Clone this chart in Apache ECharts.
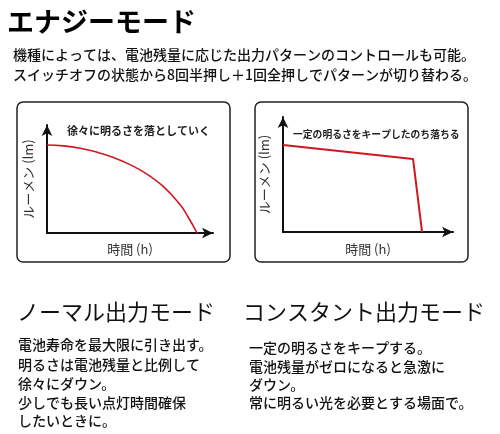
<!DOCTYPE html>
<html>
<head>
<meta charset="utf-8">
<script src="https://cdn.jsdelivr.net/npm/echarts@6/dist/echarts.min.js"></script>
<style>
  html, body { margin: 0; padding: 0; background: #fff; }
  #chart { width: 500px; height: 434px; }
</style>
</head>
<body>
<div id="chart"></div>
<script>
// normal mode: brightness falls gradually (x: time, y: lumen, arbitrary units)
const normalTime = [0, 10, 20, 30, 40, 50, 60, 70, 80, 85, 90.4]
const normalLumen = [81.5, 80.7, 78.5, 74.9, 69.9, 63.3, 54.7, 43.1, 26.6, 14.8, 0]
// constant mode: keeps brightness then drops
const constTime = [0, 76.5, 81.8]
const constLumen = [75.7, 63.5, 0]

const introLines = [
  '機種によっては、電池残量に応じた出力パターンのコントロールも可能。',
  'スイッチオフの状態から8回半押し＋1回全押しでパターンが切り替わる。'
]
const normalText = ['電池寿命を最大限に引き出す。', '明るさは電池残量と比例して', '徐々にダウン。', '少しでも長い点灯時間確保', 'したいときに。']
const constText = ['一定の明るさをキープする。', '電池残量がゼロになると急激に', 'ダウン。', '常に明るい光を必要とする場面で。']

const FONT = '"Noto Sans CJK JP", "Noto Sans", sans-serif'
const RED = '#d0161e'

const chart = echarts.init(document.getElementById('chart'))

const txt = (x, y, s, size, weight, color) => ({
  type: 'text', x, y,
  style: { text: s, font: `${weight} ${size}px ${FONT}`, fill: color || '#111', verticalAlign: 'middle' }
})

const axisBase = {
  type: 'value', min: 0, max: 100,
  axisLine: { show: true, symbol: ['none', 'arrow'], symbolSize: [8, 11], lineStyle: { color: '#111', width: 2 } },
  axisTick: { show: false }, axisLabel: { show: false }, splitLine: { show: false },
  nameTextStyle: { color: '#333', fontSize: 13, fontFamily: FONT }
}

const graphics = [
  txt(7, 22, 'エナジーモード', 27, 'bold', '#000'),
  txt(13, 55, introLines[0], 14, '500'),
  txt(13, 75, introLines[1], 14, '500'),
  { type: 'rect', shape: { x: 17, y: 102, width: 213, height: 160, r: 6 }, style: { fill: 'none', stroke: '#222', lineWidth: 1.5 } },
  { type: 'rect', shape: { x: 255, y: 102, width: 213, height: 160, r: 6 }, style: { fill: 'none', stroke: '#222', lineWidth: 1.5 } },
  txt(67, 131, '徐々に明るさを落としていく', 11, 'bold', '#222'),
  txt(293, 134, '一定の明るさをキープしたのち落ちる', 9.8, 'bold', '#222'),
  txt(17, 312, 'ノーマル出力モード', 22, 'normal', '#111'),
  txt(243, 312, 'コンスタント出力モード', 22, 'normal', '#111')
]
const normalY = [345, 365, 384, 403, 421]
normalText.forEach((s, i) => graphics.push(txt(18, normalY[i], s, 14, '500')))
const constY = [348, 367, 385, 403]
constText.forEach((s, i) => graphics.push(txt(249, constY[i], s, 14, '500')))

chart.setOption({
  animation: false,
  grid: [
    { left: 47, top: 125, width: 166, height: 108 },
    { left: 283, top: 117, width: 170, height: 115 }
  ],
  xAxis: [
    { ...axisBase, gridIndex: 0, name: '時間 (h)', nameLocation: 'middle', nameGap: 10 },
    { ...axisBase, gridIndex: 1, name: '時間 (h)', nameLocation: 'middle', nameGap: 11 }
  ],
  yAxis: [
    { ...axisBase, gridIndex: 0, name: 'ルーメン (lm)', nameLocation: 'middle', nameGap: 12, nameRotate: 90 },
    { ...axisBase, gridIndex: 1, name: 'ルーメン (lm)', nameLocation: 'middle', nameGap: 12, nameRotate: 90 }
  ],
  series: [
    {
      type: 'line', xAxisIndex: 0, yAxisIndex: 0, smooth: 0.5, showSymbol: false,
      data: normalTime.map((t, i) => [t, normalLumen[i]]),
      lineStyle: { color: RED, width: 1.6 }
    },
    {
      type: 'line', xAxisIndex: 1, yAxisIndex: 1, showSymbol: false,
      data: constTime.map((t, i) => [t, constLumen[i]]),
      lineStyle: { color: RED, width: 2 }
    }
  ],
  graphic: graphics
})
</script>
</body>
</html>
